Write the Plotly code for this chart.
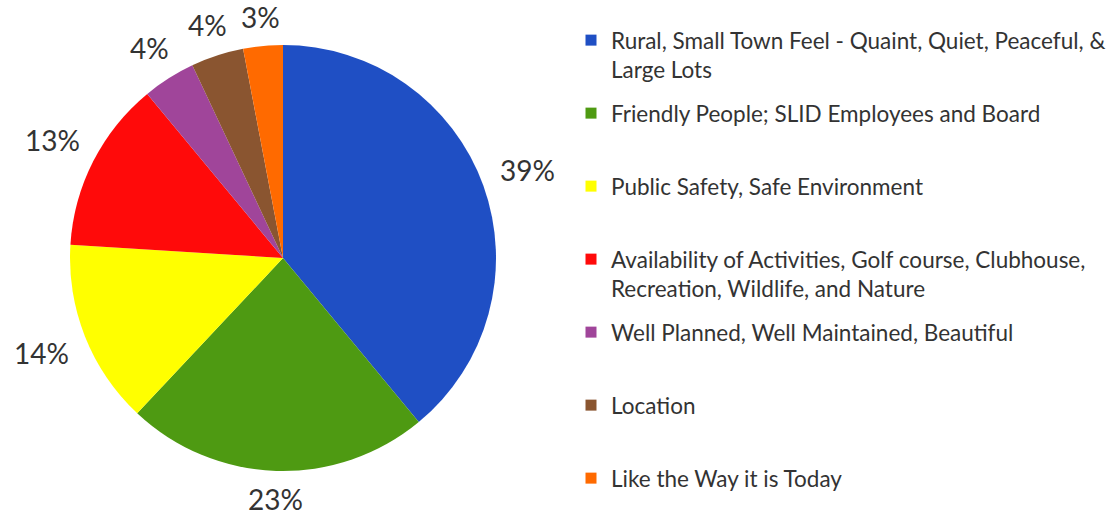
import math
import plotly.graph_objects as go

categories = [
    "Rural, Small Town Feel - Quaint, Quiet, Peaceful, &<br>Large Lots",
    "Friendly People; SLID Employees and Board",
    "Public Safety, Safe Environment",
    "Availability of Activities, Golf course, Clubhouse,<br>Recreation, Wildlife, and Nature",
    "Well Planned, Well Maintained, Beautiful",
    "Location",
    "Like the Way it is Today",
]
values = [39, 23, 14, 13, 4, 4, 3]
colors = ["#1F4FC4", "#4E9A12", "#FFFF00", "#FF0A0A", "#A0459A", "#8A5530", "#FF6A00"]

W, H = 1117, 520
cx, cy, R = 283, 258, 213  # pixel geometry of pie
FONT = "Lato, Open Sans, sans-serif"
TXT = "#333333"

fig = go.Figure(go.Pie(
    labels=categories,
    values=values,
    marker=dict(colors=colors, line=dict(width=0)),
    sort=False,
    direction="clockwise",
    rotation=0,
    textinfo="none",
    hoverinfo="label+percent",
    showlegend=False,
    domain=dict(x=[(cx - R) / W, (cx + R) / W], y=[(H - cy - R) / H, (H - cy + R) / H]),
))

# legend entries (one group each so items can be evenly spaced)
n_items = len(categories)
for i, (cat, col) in enumerate(zip(categories, colors)):
    lines = cat.count("<br>") + 1
    label = cat if (lines >= 2 or i == n_items - 1) else cat + "<br> "
    fig.add_trace(go.Scatter(
        x=[None], y=[None], mode="markers", name=label,
        marker=dict(symbol="square", size=11, color=col),
        legendgroup=f"g{i}", showlegend=True, hoverinfo="skip",
    ))

# percentage labels outside each slice, computed from values
total = sum(values)
cum = 0
gap = 18
for v in values:
    mid = (cum + v / 2) / total * 2 * math.pi
    cum += v
    s, c = math.sin(mid), math.cos(mid)
    txt = f"{round(v / total * 100)}%"
    hw = 27 if len(txt) == 3 else 19
    hh = 9
    rl = R + gap + hw * abs(s) + hh * abs(c)
    px = cx + rl * s
    py = cy - rl * c
    fig.add_annotation(
        x=px / W, y=1 - py / H, xref="paper", yref="paper",
        text=txt, showarrow=False, xanchor="center", yanchor="middle",
        font=dict(size=28, color=TXT, family=FONT),
    )

fig.update_layout(
    width=W, height=H,
    margin=dict(l=0, r=0, t=0, b=0),
    paper_bgcolor="white",
    plot_bgcolor="white",
    xaxis=dict(visible=False),
    yaxis=dict(visible=False),
    showlegend=True,
    legend=dict(
        x=571 / W, y=1 - 19 / H, xanchor="left", yanchor="top",
        valign="top",
        font=dict(size=22.5, color=TXT, family=FONT),
        itemwidth=30,
        tracegroupgap=11.5,
        bgcolor="rgba(0,0,0,0)",
    ),
)

fig.write_html("out.html", config={"displayModeBar": False},
               post_script="document.body.style.margin='0px';")
